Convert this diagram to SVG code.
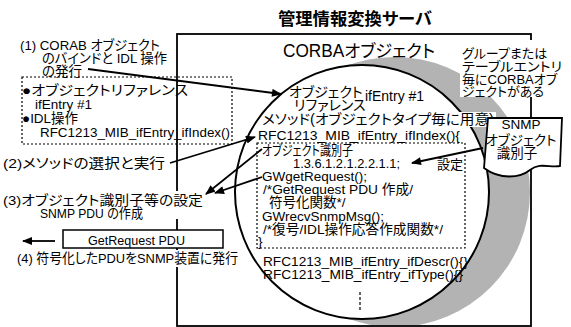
<svg xmlns="http://www.w3.org/2000/svg" width="571" height="327" viewBox="0 0 571 327">
<style>
text{font-family:"Liberation Sans","Noto Sans CJK JP",sans-serif;fill:#000;font-feature-settings:"palt" 1;}
.s{font-size:13.5px}
.m{font-size:14px}
.n{font-size:13px}
.line{stroke:#000;fill:none}
.dot{stroke:#000;fill:none;stroke-width:1.2;stroke-dasharray:2 2}
.arr{stroke:#000;stroke-width:1.8;fill:none;marker-end:url(#ah)}
.bg{fill:#fff}
</style>
<defs>
<marker id="ah" viewBox="0 0 10 8" refX="9" refY="4" markerWidth="11" markerHeight="8" markerUnits="userSpaceOnUse" orient="auto">
<path d="M0,0 L10,4 L0,8 Z" fill="#000"/>
</marker>
<clipPath id="boxclip"><rect x="178" y="35" width="352" height="290"/></clipPath>
</defs>

<g id="server">
<rect x="177" y="34" width="354" height="292" class="line" stroke-width="1.8"/>
<text x="278" y="25" font-size="17" font-weight="bold" textLength="154" lengthAdjust="spacingAndGlyphs">管理情報変換サーバ</text>
</g>

<g id="corba-object">
<circle cx="395" cy="192" r="135" fill="#b3b3b3" clip-path="url(#boxclip)"/>
<circle cx="362" cy="192" r="127" fill="#fff" stroke="#000" stroke-width="2"/>
<text x="283" y="57" font-size="17.5" textLength="152" lengthAdjust="spacingAndGlyphs">CORBAオブジェクト</text>
<text x="289" y="97" class="m">オブジェクト</text>
<text x="294" y="110" class="m">リファレンス</text>
<text x="365" y="101" class="m">ifEntry #1</text>
<rect x="440" y="112" width="56" height="15" class="bg"/>
<text x="262" y="124" class="m" textLength="232" lengthAdjust="spacingAndGlyphs">メソッド(オブジェクトタイプ毎に用意)</text>
<text x="258" y="140" class="s" textLength="202" lengthAdjust="spacingAndGlyphs">RFC1213_MIB_ifEntry_ifIndex(){</text>
<line x1="360" y1="292" x2="360" y2="310" stroke="#000" stroke-width="1.2" stroke-dasharray="3 2"/>
</g>

<g id="method-body">
<rect x="257" y="143" width="208" height="105" class="dot"/>
<text x="262" y="155" class="s" textLength="91" lengthAdjust="spacingAndGlyphs">オブジェクト識別子</text>
<text x="293" y="168" class="s" textLength="107" lengthAdjust="spacingAndGlyphs">1.3.6.1.2.1.2.2.1.1;</text>
<text x="437" y="169" class="n">設定</text>
<text x="262" y="181" class="s">GWgetRequest();</text>
<text x="263" y="194" class="s" textLength="150" lengthAdjust="spacingAndGlyphs">/*GetRequest PDU 作成/</text>
<text x="269" y="207" class="s">符号化関数*/</text>
<text x="262" y="221" class="s">GWrecvSnmpMsg();</text>
<text x="263" y="234" class="s" textLength="180" lengthAdjust="spacingAndGlyphs">/*復号/IDL操作応答作成関数*/</text>
<text x="258" y="246" class="s">}</text>
<text x="263" y="266" class="s" textLength="205" lengthAdjust="spacingAndGlyphs">RFC1213_MIB_ifEntry_ifDescr(){}</text>
<text x="263" y="279" class="s" textLength="200" lengthAdjust="spacingAndGlyphs">RFC1213_MIB_ifEntry_ifType(){}</text>
</g>

<g id="group-note">
<rect x="460" y="40" width="108" height="57" class="bg"/>
<text x="462" y="58" class="n">グループまたは</text>
<text x="462" y="71" class="n" textLength="100" lengthAdjust="spacingAndGlyphs">テーブルエントリ</text>
<text x="462" y="84" class="n">毎にCORBAオブ</text>
<text x="462" y="96" class="n">ジェクトがある</text>
</g>

<g id="snmp-oid">
<path d="M488,118 L562,118 L560,166 C550,168 540,162 530,170 C520,178 500,180 484,168 Z" fill="#fff" stroke="#000" stroke-width="1.8"/>
<line x1="496" y1="118" x2="488" y2="118" class="line" stroke-width="1.8"/>
<text x="521" y="129" class="s" text-anchor="middle">SNMP</text>
<text x="521" y="145" class="s" text-anchor="middle">オブジェクト</text>
<text x="517" y="158" class="s" text-anchor="middle">識別子</text>
</g>

<g id="object-ref">
<rect x="22" y="77" width="210" height="67" class="dot"/>
<text x="22" y="95" class="s" textLength="166" lengthAdjust="spacingAndGlyphs">●オブジェクトリファレンス</text>
<text x="35" y="109" class="s">ifEntry #1</text>
<text x="22" y="123" class="s" textLength="56" lengthAdjust="spacingAndGlyphs">●IDL操作</text>
<text x="40" y="137" class="s" textLength="190" lengthAdjust="spacingAndGlyphs">RFC1213_MIB_ifEntry_ifIndex()</text>
</g>

<g id="step1">
<text x="20" y="50" class="s" textLength="140" lengthAdjust="spacingAndGlyphs">(1) CORAB オブジェクト</text>
<text x="42" y="63" class="s" textLength="125" lengthAdjust="spacingAndGlyphs">のバインドと IDL 操作</text>
<text x="42" y="76" class="s">の発行</text>
</g>

<g id="step2">
<text x="3" y="168" class="s" textLength="162" lengthAdjust="spacingAndGlyphs">(2)メソッドの選択と実行</text>
</g>

<g id="step3">
<rect x="0" y="191" width="206" height="28" class="bg"/>
<text x="3" y="205" class="s" textLength="200" lengthAdjust="spacingAndGlyphs">(3)オブジェクト識別子等の設定</text>
<text x="40" y="218" class="s" textLength="103" lengthAdjust="spacingAndGlyphs">SNMP PDU の作成</text>
</g>

<g id="pdu">
<rect x="63" y="230" width="160" height="18" fill="#fff" stroke="#000" stroke-width="1.5"/>
<text x="88" y="245" class="s" textLength="97" lengthAdjust="spacingAndGlyphs">GetRequest PDU</text>
</g>

<g id="step4">
<rect x="15" y="250" width="226" height="17" class="bg"/>
<text x="17" y="263" class="s" textLength="221" lengthAdjust="spacingAndGlyphs">(4) 符号化したPDUをSNMP装置に発行</text>
</g>

<g id="connectors">
<line x1="88" y1="69" x2="281" y2="94" class="arr"/>
<line x1="170" y1="163" x2="255" y2="137" class="arr"/>
<line x1="262" y1="149" x2="206" y2="194" class="arr"/>
<line x1="262" y1="177" x2="215" y2="193" class="arr"/>
<line x1="483" y1="148" x2="412" y2="163" class="arr"/>
<line x1="55" y1="241" x2="23" y2="241" class="arr"/>
</g>
</svg>
